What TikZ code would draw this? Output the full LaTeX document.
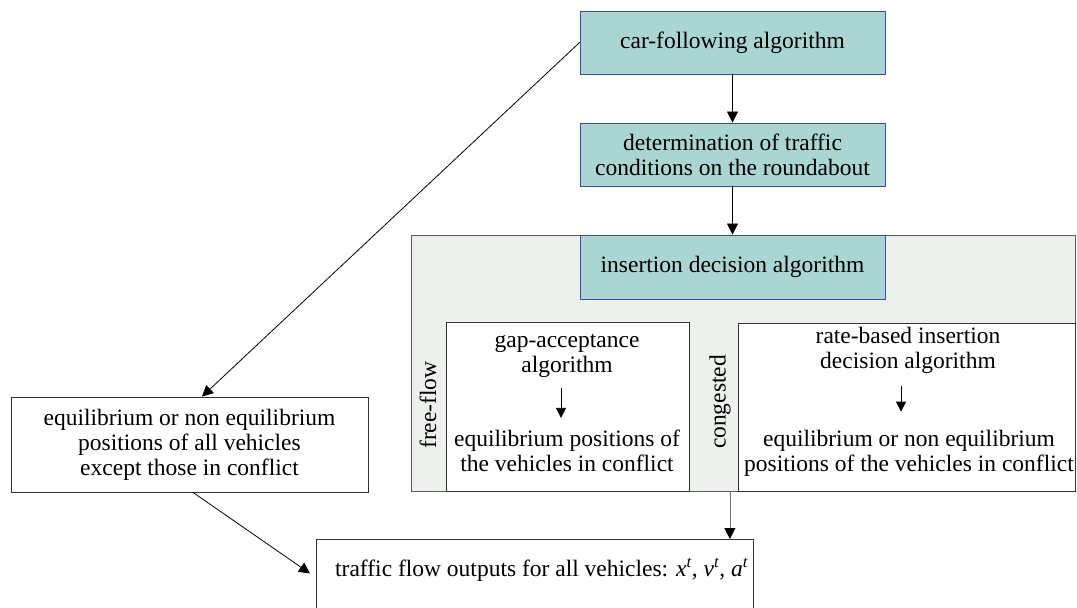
\documentclass[tikz,border=0pt]{standalone}
\usepackage{fontspec}
\setmainfont{Liberation Serif}
\usetikzlibrary{arrows.meta}
\definecolor{tealfill}{HTML}{AAD5D3}
\definecolor{tealborder}{HTML}{3A4CA6}
\definecolor{greyfill}{HTML}{EEF0EE}
\definecolor{greyborder}{HTML}{5A5A5A}
\begin{document}
\begin{tikzpicture}[x=1pt,y=-1pt,
  every node/.style={font=\fontsize{23.5}{25}\selectfont, inner sep=0pt},
  tealbox/.style={draw=tealborder, fill=tealfill, line width=0.9pt, align=center, minimum width=305pt, minimum height=63pt},
  whitebox/.style={draw=black!80, fill=white, line width=0.9pt},
  txt/.style={align=center},
  arr/.style={-{Triangle[length=11pt,width=11pt]}, line width=0.8pt},
  sarr/.style={-{Triangle[length=10pt,width=10pt]}, line width=0.8pt}]
\useasboundingbox (0,0) rectangle (1077,608);
\clip (0,0) rectangle (1077,608);
% top boxes
\node[tealbox] (car) at (732.5,42.5) {car-following algorithm};
\node[tealbox] (det) at (732.5,154.5) {determination of traffic\\conditions on the roundabout};
% grey container
\node[draw=greyborder, fill=greyfill, line width=0.9pt, minimum width=664pt, minimum height=256pt] (outer) at (743,363) {};
\node[tealbox, minimum height=64pt] (ins) at (732.5,267) {insertion decision algorithm};
\node[whitebox, minimum width=243pt, minimum height=169pt] (gap) at (567.5,406.5) {};
\node[whitebox, minimum width=337pt, minimum height=168pt] (rate) at (906.5,407) {};
\node[rotate=90] (ff) at (428,405) {free-flow};
\node[rotate=90] (cg) at (720,402) {congested};
\node[txt] (gtop) at (567,356) {gap-acceptance\\algorithm};
\node[txt] (gbot) at (567,450.5) {equilibrium positions of\\the vehicles in conflict};
\node[txt] (rtop) at (908,350) {rate-based insertion\\decision algorithm};
\node[txt] (rbot) at (909,453.5) {equilibrium or non equilibrium\\positions of the vehicles in conflict};
% left box
\node[whitebox, align=center, minimum width=357pt, minimum height=95pt] (left) at (189.5,444.5) {equilibrium or non equilibrium\\positions of all vehicles\\except those in conflict};
% bottom box
\node[whitebox, minimum width=437pt, minimum height=80pt, anchor=north west] (traffic) at (316,539) {};
\node[anchor=west] (ttext) at (335,570) {traffic flow outputs for all vehicles: \textit{x}\textsuperscript{\textit{t}}, \textit{v}\textsuperscript{\textit{t}}, \textit{a}\textsuperscript{\textit{t}}};
% connectors
\draw[arr] (car.south) -- (det.north);
\draw[arr] (det.south) -- (ins.north);
\draw[arr] (car.west) -- ([xshift=12.5pt]left.north);
\draw[arr] ([xshift=3.5pt]left.south) -- ([xshift=-6pt,yshift=6pt]traffic.west);
\draw[-{Triangle[length=11pt,width=11pt,color=black]}, line width=0.8pt, draw=black!55] ([xshift=-24pt]traffic.north east |- outer.south) -- ([xshift=-24pt]traffic.north east);
\draw[sarr] ([xshift=-6pt,yshift=-10pt]gtop.south) -- ([xshift=-6pt,yshift=11.5pt]gbot.north);
\draw[sarr] ([xshift=-7pt,yshift=-13pt]rtop.south) -- ([xshift=-8pt,yshift=18.5pt]rbot.north);
\end{tikzpicture}
\end{document}
